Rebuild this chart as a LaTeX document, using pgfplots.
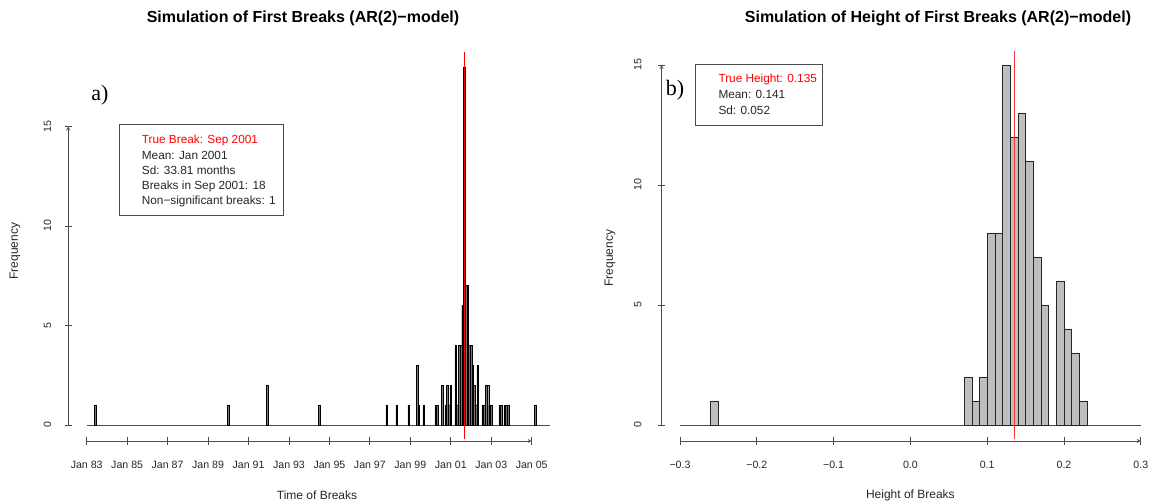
\documentclass[border=0pt]{standalone}
\usepackage{fontspec}
\setmainfont{Liberation Sans}
\newfontfamily\seriffont{Liberation Serif}
\usepackage{pgfplots}
\pgfplotsset{compat=1.18}
\definecolor{Rgray}{RGB}{190,190,190}
\definecolor{Rdark}{RGB}{120,120,120}
\definecolor{axisgray}{RGB}{75,75,75}
\newcommand{\ticksize}{\fontsize{10.6}{12}\selectfont}
\newcommand{\labsize}{\fontsize{12}{14}\selectfont}
\newcommand{\legsize}{\fontsize{11.8}{14}\selectfont}

\pgfplotstableread{
k n
5 1
84 1
107 2
138 1
178 1
184 1
191 1
196 3
197 1
200 1
207 1
208 1
211 2
213 1
214 2
215 1
216 2
219 4
220 1
221 4
222 4
223 6
224 18
225 7
226 7
227 4
228 4
229 3
230 2
231 1
232 3
235 1
236 1
237 2
238 2
239 1
240 1
245 1
246 1
248 1
249 1
250 1
266 1
}\breaksdata

\pgfplotstableread{
h n
-0.255 1
0.075 2
0.085 1
0.095 2
0.105 8
0.115 8
0.125 15
0.135 12
0.145 13
0.155 11
0.165 7
0.175 5
0.195 6
0.205 4
0.215 3
0.225 1
}\heightdata

\pgfplotsset{
  mainbox/.style={anchor=south west, scale only axis, hide axis, clip=false},
  Raxis/.style={anchor=south west, scale only axis,
    /pgf/number format/assume math mode=true,
    tick align=outside, major tick length=7pt,
    axis line style={-, axisgray, line width=0.8pt},
    every tick/.style={axisgray, line width=0.8pt},
    tick label style={font=\ticksize, text=black!85}},
  Ryaxis/.style={Raxis, width=10pt, xmin=0, xmax=1, ymin=0, ymax=15,
    axis y line=left, axis x line=none, ytick={0,5,10,15},
    yticklabel style={rotate=90, anchor=south}, yticklabel shift={#1}},
  Rxaxis/.style={Raxis, height=10pt, ymin=0, ymax=1,
    axis x line=bottom, axis y line=none,
    xticklabel style={anchor=north, yshift=-13pt}},
}

\begin{document}
\begin{tikzpicture}
\useasboundingbox (0pt,0pt) rectangle (1150pt,503pt);

% ---------- Left panel ----------
\begin{axis}[mainbox, at={(68.16pt,63.7pt)}, width=500.6pt, height=386.9pt,
  xmin=-11, xmax=286, ymin=-0.72, ymax=18.72]
\addplot[axisgray, line width=0.8pt] coordinates {(0,0) (275,0)};
\addplot[ybar, bar width=1, fill=Rdark, draw=black, line width=0.4pt] table[x=k, y=n] {\breaksdata};
\addplot[red, line width=1.1pt] coordinates {(224,-0.72) (224,18.72)};
\end{axis}

\begin{axis}[Ryaxis=10pt, at={(68.16pt,78pt)}, height=298.5pt]
\end{axis}

\begin{axis}[Rxaxis, at={(86.7pt,62pt)}, width=445pt, xmin=0, xmax=264,
  xtick={0,24,48,72,96,120,144,168,192,216,240,264},
  xticklabels={Jan 83,Jan 85,Jan 87,Jan 89,Jan 91,Jan 93,Jan 95,Jan 97,Jan 99,Jan 01,Jan 03,Jan 05},
  xlabel={Time of Breaks},
  every axis x label/.style={at={(axis description cs:0.5175,0)}, anchor=center, yshift=-54pt, font=\labsize, text=black!85}]
\end{axis}

\node[font=\fontsize{16}{19}\selectfont\bfseries] at (303pt,485pt) {Simulation of First Breaks (AR(2)−model)};
\node[font=\labsize, rotate=90, text=black!85] at (15pt,252pt) {Frequency};
\node[font=\seriffont\fontsize{22}{24}\selectfont] at (100pt,408pt) {a)};

\draw[axisgray, line width=0.7pt, fill=white] (119pt,378.7pt) rectangle (283.7pt,287.7pt);
\node[font=\legsize, anchor=west, text=red, inner sep=0pt] at (141.7pt,363pt) {True Break: Sep 2001};
\node[font=\legsize, anchor=west, text=black!85, inner sep=0pt] at (141.7pt,347.5pt) {Mean: Jan 2001};
\node[font=\legsize, anchor=west, text=black!85, inner sep=0pt] at (141.7pt,332.3pt) {Sd: 33.81 months};
\node[font=\legsize, anchor=west, text=black!85, inner sep=0pt] at (141.7pt,317pt) {Breaks in Sep 2001: 18};
\node[font=\legsize, anchor=west, text=black!85, inner sep=0pt] at (141.7pt,302pt) {Non−significant breaks: 1};

% ---------- Right panel ----------
\begin{axis}[mainbox, at={(661.6pt,63.6pt)}, width=497.7pt, height=388.8pt,
  xmin=-0.324, xmax=0.324, ymin=-0.6, ymax=15.6]
\addplot[axisgray, line width=0.8pt] coordinates {(-0.3,0) (0.3,0)};
\addplot[ybar, bar width=0.01, fill=Rgray, draw=black!85, line width=0.6pt] table[x=h, y=n] {\heightdata};
\addplot[red!80!white, line width=0.7pt] coordinates {(0.135,-0.6) (0.135,15.6)};
\end{axis}

\begin{axis}[Ryaxis=13pt, at={(661.6pt,78pt)}, height=360pt]
\end{axis}

\begin{axis}[Rxaxis, at={(680pt,62pt)}, width=460.8pt, xmin=-0.3, xmax=0.3,
  xtick={-0.3,-0.2,-0.1,0,0.1,0.2,0.3},
  xticklabels={−0.3,−0.2,−0.1,0.0,0.1,0.2,0.3},
  xlabel={Height of Breaks},
  every axis x label/.style={at={(axis description cs:0.5,0)}, anchor=center, yshift=-54pt, font=\labsize, text=black!85}]
\end{axis}

\node[font=\fontsize{16}{19}\selectfont\bfseries] at (938pt,485pt) {Simulation of Height of First Breaks (AR(2)−model)};
\node[font=\labsize, rotate=90, text=black!85] at (610pt,245pt) {Frequency};
\node[font=\seriffont\fontsize{22}{24}\selectfont] at (675pt,413pt) {b)};

\draw[axisgray, line width=0.7pt, fill=white] (695.7pt,438.7pt) rectangle (822pt,377.7pt);
\node[font=\legsize, anchor=west, text=red, inner sep=0pt] at (718.3pt,423.7pt) {True Height: 0.135};
\node[font=\legsize, anchor=west, text=black!85, inner sep=0pt] at (718.3pt,408.7pt) {Mean: 0.141};
\node[font=\legsize, anchor=west, text=black!85, inner sep=0pt] at (718.3pt,393pt) {Sd: 0.052};
\end{tikzpicture}
\end{document}
